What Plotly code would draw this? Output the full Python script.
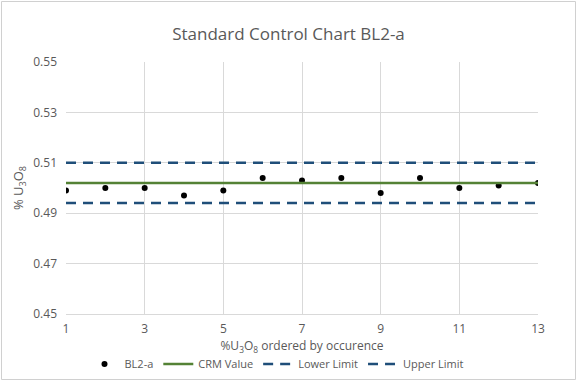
import plotly.graph_objects as go

samples = list(range(1, 14))
bl2a = [0.499, 0.500, 0.500, 0.497, 0.499, 0.504, 0.503, 0.504, 0.498, 0.504, 0.500, 0.501, 0.502]
crm_value = 0.502
lower_limit = 0.494
upper_limit = 0.510

W, H = 577, 381
ml, mr, mt, mb = 66, 39, 62, 67

fig = go.Figure()
fig.add_trace(go.Scatter(x=samples, y=bl2a, mode="markers", name="BL2-a",
                         marker=dict(color="black", size=6)))
fig.add_trace(go.Scatter(x=samples, y=[crm_value]*len(samples), mode="lines", name="CRM Value",
                         line=dict(color="#548235", width=2.5)))
fig.add_trace(go.Scatter(x=samples, y=[lower_limit]*len(samples), mode="lines", name="Lower Limit",
                         line=dict(color="#1F4E79", width=2.5, dash="10px,7px")))
fig.add_trace(go.Scatter(x=samples, y=[upper_limit]*len(samples), mode="lines", name="Upper Limit",
                         line=dict(color="#1F4E79", width=2.5, dash="10px,7px")))

pw = W - ml - mr
ph = H - mt - mb
fig.add_shape(type="rect", xref="paper", yref="paper",
              x0=-(ml - 1.5) / pw, x1=1 + (mr - 1.5) / pw,
              y0=-(mb - 1.5) / ph, y1=1 + (mt - 1.5) / ph,
              line=dict(color="#D0D0D0", width=1), layer="below")

fig.update_layout(
    width=W, height=H,
    margin=dict(l=ml, r=mr, t=mt, b=mb, autoexpand=False),
    paper_bgcolor="white", plot_bgcolor="white",
    font=dict(family="Open Sans", color="#595959", size=12),
    title=dict(text="Standard Control Chart BL2-a", x=0.5, xref="container",
               y=1 - 34 / H, yanchor="middle",
               font=dict(size=17, color="#595959")),
    xaxis=dict(range=[1, 13], tickvals=[1, 3, 5, 7, 9, 11, 13],
               showgrid=True, gridcolor="#D9D9D9", gridwidth=1,
               showline=True, linecolor="#D9D9D9", mirror=False,
               zeroline=False, ticks="", ticklabelstandoff=4,
               title=dict(text="%U<sub>3</sub>O<sub>8</sub> ordered by occurence",
                          font=dict(size=12, color="#595959"), standoff=3)),
    yaxis=dict(range=[0.45, 0.55], tickvals=[0.45, 0.47, 0.49, 0.51, 0.53, 0.55],
               tickformat=".2f",
               showgrid=True, gridcolor="#D9D9D9", gridwidth=1,
               zeroline=False, ticks="", ticklabelstandoff=8,
               title=dict(text="% U<sub>3</sub>O<sub>8</sub>",
                          font=dict(size=13, color="#595959"), standoff=6)),
    legend=dict(orientation="h", x=(277 - ml) / pw, xanchor="center",
                y=-(364 - 314) / ph, yanchor="middle",
                font=dict(size=11, color="#595959"),
                bgcolor="rgba(0,0,0,0)"),
    showlegend=True,
)

fig.write_html("out.html", config={"displayModeBar": False},
               post_script="document.body.style.margin='0';")
